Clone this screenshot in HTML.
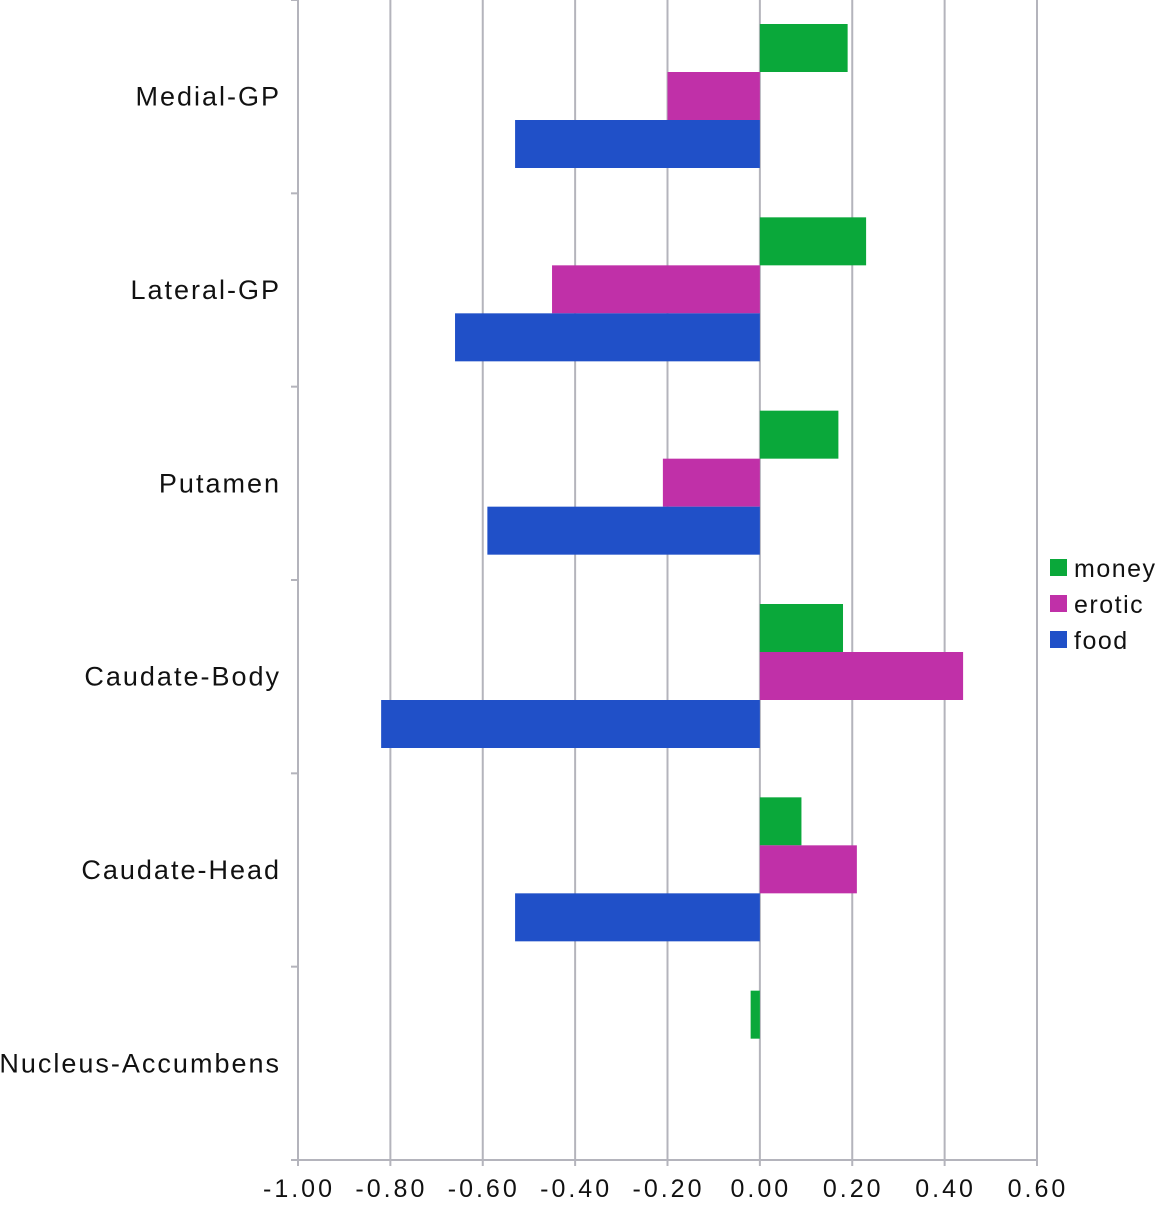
<!DOCTYPE html>
<html><head><meta charset="utf-8"><style>
body{margin:0;background:#fff;}
svg text{font-family:"Liberation Sans",sans-serif;fill:#111;}
</style></head><body>
<svg width="1160" height="1200">
<g id="grid"></g>
<g id="bars"></g>
<g id="axes"></g>
<g>
<rect x="1050" y="559" width="17" height="17" fill="#0aa83a"/>
<text x="1074" y="577" font-size="25" letter-spacing="1.5">money</text>
<rect x="1050" y="595" width="17" height="17" fill="#c030a8"/>
<text x="1074" y="613" font-size="25" letter-spacing="1.5">erotic</text>
<rect x="1050" y="631" width="17" height="17" fill="#2050c8"/>
<text x="1074" y="649" font-size="25" letter-spacing="1.5">food</text>
</g>
</svg>
<script>
const categories=["Medial-GP","Lateral-GP","Putamen","Caudate-Body","Caudate-Head","Nucleus-Accumbens"];
const money=[0.19,0.23,0.17,0.18,0.09,-0.02];
const erotic=[-0.20,-0.45,-0.21,0.44,0.21,0];
const food=[-0.53,-0.66,-0.59,-0.82,-0.53,0];
const xTicks=[-1.0,-0.8,-0.6,-0.4,-0.2,0,0.2,0.4,0.6];
const xMin=-1.0,xMax=0.6,plotLeft=298,plotRight=1037,plotTop=0,plotBottom=1160;
const NS="http://www.w3.org/2000/svg";
function X(v){return plotLeft+(v-xMin)/(xMax-xMin)*(plotRight-plotLeft);}
const band=(plotBottom-plotTop)/categories.length;
function Y(i){return plotTop+i*band;}
function mk(tag,attrs,parent){const e=document.createElementNS(NS,tag);for(const k in attrs)e.setAttribute(k,attrs[k]);parent.appendChild(e);return e;}
const grid=document.getElementById('grid'),bars=document.getElementById('bars'),axes=document.getElementById('axes');
xTicks.forEach(t=>{
  const l=mk('line',{x1:X(t),x2:X(t),y1:plotTop,y2:plotBottom+6,stroke:'#b4b4bc','stroke-width':2},grid);
  
  
  const tx=mk('text',{x:X(t)+1,y:1197,'font-size':25,'letter-spacing':3,'text-anchor':'middle'},axes);
  tx.textContent=t.toFixed(2);
  
  
});
const ax=mk('line',{x1:plotLeft,x2:plotRight,y1:plotBottom,y2:plotBottom,stroke:'#b4b4bc','stroke-width':2},axes);


const yl=mk('line',{x1:plotLeft,x2:plotLeft,y1:plotTop,y2:plotBottom,stroke:'#b4b4bc','stroke-width':2},axes);


for(let i=0;i<=categories.length;i++){
  const tk=mk('line',{x1:plotLeft-7,x2:plotLeft,y1:Y(i),y2:Y(i),stroke:'#b4b4bc','stroke-width':2},axes);
  
  
}
const series=[[money,'#0aa83a','money'],[erotic,'#c030a8','erotic'],[food,'#2050c8','food']];
const bh=48,off=24;
categories.forEach((c,i)=>{
  const lab=mk('text',{x:281,y:Y(i)+band/2+9,'font-size':27,'letter-spacing':2,'text-anchor':'end'},axes);
  lab.textContent=c;
  
  
  series.forEach((s,j)=>{
    const v=s[0][i];const x0=X(0),x1=X(v);
    const r=mk('rect',{x:Math.min(x0,x1),y:Y(i)+off+j*bh,width:Math.abs(x1-x0),height:bh,fill:s[1]},bars);
    
    
  });
});
</script>
</body></html>
